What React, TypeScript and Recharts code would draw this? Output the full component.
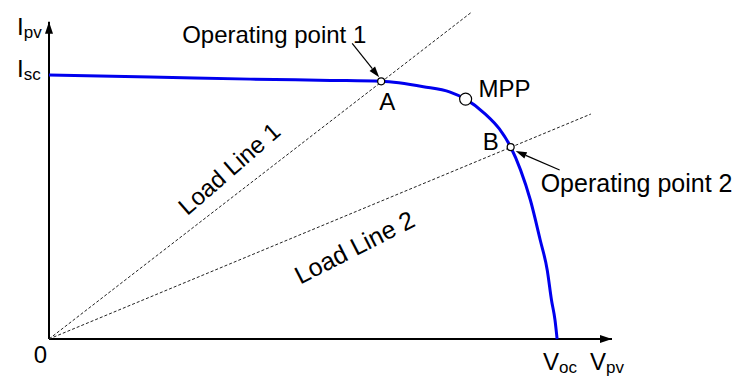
import React from 'react';
import { ComposedChart, Line, XAxis, YAxis, ReferenceLine, ReferenceDot } from 'recharts';

// I-V curve of the PV module (voltage, current)
const VOLTAGE = [0, 7.2, 14.3, 20, 23.6, 26.6, 28.5, 29.6, 31, 32, 32.8, 33.5, 34.2, 34.9, 35.4, 35.7, 35.95, 36.1];
const CURRENT = [8.32, 8.26, 8.19, 8.15, 8.12, 7.95, 7.78, 7.56, 7.09, 6.62, 6.05, 5.33, 4.38, 3.12, 2.17, 1.23, 0.6, 0];

// resistive load lines through the origin
const LOAD_LINE_1_V = [0, 30.05];
const LOAD_LINE_1_I = [0, 10.31];
const LOAD_LINE_2_V = [0, 38.5];
const LOAD_LINE_2_I = [0, 7.09];

// marked points on the curve
const POINT_A = { v: 23.6, i: 8.12 };
const POINT_MPP = { v: 29.6, i: 7.56 };
const POINT_B = { v: 32.8, i: 6.05 };

const X_MAX = 40;
const Y_MAX = 10;
const ISC = CURRENT[0];
const VOC = VOLTAGE[VOLTAGE.length - 1];

const curve = VOLTAGE.map((v, k) => ({ v, i: CURRENT[k] }));
const load1 = LOAD_LINE_1_V.map((v, k) => ({ v, i: LOAD_LINE_1_I[k] }));
const load2 = LOAD_LINE_2_V.map((v, k) => ({ v, i: LOAD_LINE_2_I[k] }));

const FONT = '"Liberation Sans", Arial, Helvetica, sans-serif';

const Arrow = ({ x1, y1, x2, y2 }: { x1: number; y1: number; x2: number; y2: number }) => {
  const a = Math.atan2(y2 - y1, x2 - x1);
  const len = 11;
  const half = 3.5;
  const bx = x2 - len * Math.cos(a);
  const by = y2 - len * Math.sin(a);
  const pts = `${x2},${y2} ${bx - half * Math.sin(a)},${by + half * Math.cos(a)} ${bx + half * Math.sin(a)},${by - half * Math.cos(a)}`;
  return (
    <g>
      <line x1={x1} y1={y1} x2={bx} y2={by} stroke="#000" strokeWidth={1.2} />
      <polygon points={pts} fill="#000" />
    </g>
  );
};

// text with a subscript, e.g. I_pv
const SubText = ({ x, y, main, sub, size, subSize, anchor }: any) => (
  <text x={x} y={y} fontFamily={FONT} fontSize={size} fill="#000" textAnchor={anchor || 'start'}>
    <tspan>{main}</tspan>
    <tspan dy={3} fontSize={subSize}>{sub}</tspan>
  </text>
);

const marker = (r: number) => (p: any) => (
  <circle cx={p.cx} cy={p.cy} r={r} fill="#fff" stroke="#000" strokeWidth={1.2} />
);

export default function App() {
  return (
    <div style={{ position: 'absolute', left: 0, top: 0, background: '#fff' }}>
      <ComposedChart width={749} height={380} margin={{ top: 9, right: 137, bottom: 41, left: 49 }}>
        <XAxis type="number" dataKey="v" domain={[0, X_MAX]} hide />
        <YAxis type="number" dataKey="i" domain={[0, 10.4]} hide />

        <ReferenceLine segment={[{ x: 0, y: 0 }, { x: X_MAX, y: 0 }]} stroke="#000" strokeWidth={2} />
        <ReferenceLine segment={[{ x: 0, y: 0 }, { x: 0, y: Y_MAX }]} stroke="#000" strokeWidth={2} />

        <Line data={load1} dataKey="i" stroke="#222" strokeWidth={1} strokeDasharray="3 2" dot={false} isAnimationActive={false} />
        <Line data={load2} dataKey="i" stroke="#222" strokeWidth={1} strokeDasharray="3 2" dot={false} isAnimationActive={false} />
        <Line data={curve} dataKey="i" type="monotone" stroke="#0000ee" strokeWidth={3} dot={false} isAnimationActive={false} />

        {/* axis arrowheads and axis labels */}
        <ReferenceDot
          x={X_MAX}
          y={0}
          shape={(p: any) => (
            <g>
              <polygon points={`${p.cx},${p.cy} ${p.cx - 12},${p.cy - 4} ${p.cx - 12},${p.cy + 4}`} fill="#000" />
              <SubText x={p.cx - 22} y={p.cy + 31} main="V" sub="pv" size={24} subSize={17} />
            </g>
          )}
        />
        <ReferenceDot
          x={0}
          y={Y_MAX}
          shape={(p: any) => (
            <g>
              <polygon points={`${p.cx},${p.cy} ${p.cx - 4},${p.cy + 12} ${p.cx + 4},${p.cy + 12}`} fill="#000" />
              <SubText x={p.cx - 32} y={p.cy + 13} main="I" sub="pv" size={24} subSize={17} />
            </g>
          )}
        />
        <ReferenceDot
          x={0}
          y={0}
          shape={(p: any) => (
            <text x={p.cx - 2} y={p.cy + 24} fontFamily={FONT} fontSize={24} textAnchor="end">0</text>
          )}
        />
        <ReferenceDot
          x={VOC}
          y={0}
          shape={(p: any) => <SubText x={p.cx - 14} y={p.cy + 31} main="V" sub="oc" size={24} subSize={17} />}
        />
        <ReferenceDot
          x={0}
          y={ISC}
          shape={(p: any) => <SubText x={p.cx - 32} y={p.cy + 2} main="I" sub="sc" size={24} subSize={17} />}
        />

        {/* load line captions */}
        <ReferenceDot
          x={12.8}
          y={12.8 * (LOAD_LINE_1_I[1] / LOAD_LINE_1_V[1])}
          shape={(p: any) => (
            <text
              x={p.cx}
              y={p.cy - 31}
              dy="0.35em"
              transform={`rotate(-41, ${p.cx}, ${p.cy - 31})`}
              fontFamily={FONT}
              fontSize={24}
              textAnchor="middle"
            >
              Load Line 1
            </text>
          )}
        />
        <ReferenceDot
          x={21.7}
          y={21.7 * (LOAD_LINE_2_I[1] / LOAD_LINE_2_V[1])}
          shape={(p: any) => (
            <text
              x={p.cx}
              y={p.cy + 35}
              dy="0.35em"
              transform={`rotate(-27, ${p.cx}, ${p.cy + 35})`}
              fontFamily={FONT}
              fontSize={25}
              textAnchor="middle"
            >
              Load Line 2
            </text>
          )}
        />

        {/* operating points and MPP */}
        <ReferenceDot
          x={POINT_A.v}
          y={POINT_A.i}
          shape={(p: any) => (
            <g>
              <Arrow x1={p.cx - 29} y1={p.cy - 38} x2={p.cx - 2} y2={p.cy - 4} />
              <text x={p.cx - 199} y={p.cy - 38} fontFamily={FONT} fontSize={24}>Operating point 1</text>
              <text x={p.cx - 2} y={p.cy + 29} fontFamily={FONT} fontSize={24}>A</text>
              {marker(3.5)(p)}
            </g>
          )}
        />
        <ReferenceDot
          x={POINT_MPP.v}
          y={POINT_MPP.i}
          shape={(p: any) => (
            <g>
              <text x={p.cx + 13} y={p.cy - 2} fontFamily={FONT} fontSize={24}>MPP</text>
              {marker(6)(p)}
            </g>
          )}
        />
        <ReferenceDot
          x={POINT_B.v}
          y={POINT_B.i}
          shape={(p: any) => (
            <g>
              <Arrow x1={p.cx + 49} y1={p.cy + 23} x2={p.cx + 5} y2={p.cy + 4} />
              <text x={p.cx + 30} y={p.cy + 45} fontFamily={FONT} fontSize={25}>Operating point 2</text>
              <text x={p.cx - 12} y={p.cy + 3} fontFamily={FONT} fontSize={24} textAnchor="end">B</text>
              {marker(3.5)(p)}
            </g>
          )}
        />
      </ComposedChart>
    </div>
  );
}
